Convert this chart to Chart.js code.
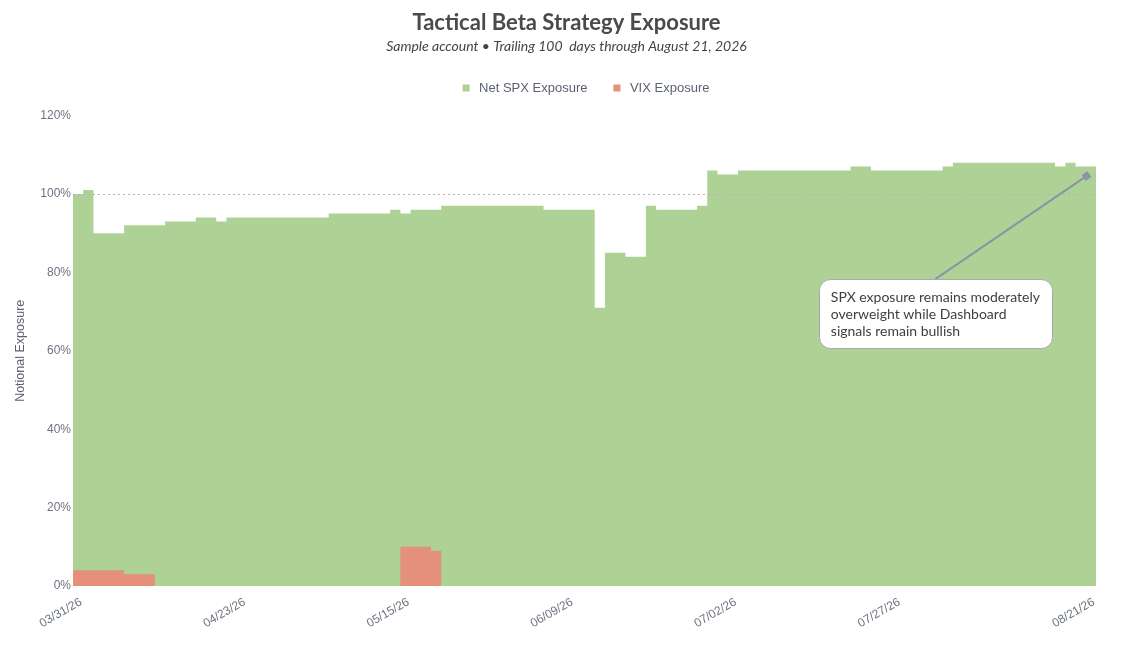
<!DOCTYPE html>
<html>
<head>
<meta charset="utf-8">
<title>Tactical Beta Strategy Exposure</title>
<script src="https://cdn.jsdelivr.net/npm/chart.js@4.4.1/dist/chart.umd.min.js"></script>
<style>
	html, body { margin: 0; padding: 0; background: #fff; }
	#wrap { width: 1133px; height: 651px; position: relative; }
</style>
</head>
<body>
<div id="wrap"><canvas id="exposure-chart"></canvas></div>
<script>
// trading days, 03/31/26 through 08/21/26
const tradeDates = [
	"03/31/26", "04/01/26", "04/02/26", "04/06/26", "04/07/26", "04/08/26", "04/09/26", "04/10/26", "04/13/26", "04/14/26",
	"04/15/26", "04/16/26", "04/17/26", "04/20/26", "04/21/26", "04/22/26", "04/23/26", "04/24/26", "04/27/26", "04/28/26",
	"04/29/26", "04/30/26", "05/01/26", "05/04/26", "05/05/26", "05/06/26", "05/07/26", "05/08/26", "05/11/26", "05/12/26",
	"05/13/26", "05/14/26", "05/15/26", "05/18/26", "05/19/26", "05/20/26", "05/21/26", "05/22/26", "05/26/26", "05/27/26",
	"05/28/26", "05/29/26", "06/01/26", "06/02/26", "06/03/26", "06/04/26", "06/05/26", "06/08/26", "06/09/26", "06/10/26",
	"06/11/26", "06/12/26", "06/15/26", "06/16/26", "06/17/26", "06/18/26", "06/22/26", "06/23/26", "06/24/26", "06/25/26",
	"06/26/26", "06/29/26", "06/30/26", "07/01/26", "07/02/26", "07/06/26", "07/07/26", "07/08/26", "07/09/26", "07/10/26",
	"07/13/26", "07/14/26", "07/15/26", "07/16/26", "07/17/26", "07/20/26", "07/21/26", "07/22/26", "07/23/26", "07/24/26",
	"07/27/26", "07/28/26", "07/29/26", "07/30/26", "07/31/26", "08/03/26", "08/04/26", "08/05/26", "08/06/26", "08/07/26",
	"08/10/26", "08/11/26", "08/12/26", "08/13/26", "08/14/26", "08/17/26", "08/18/26", "08/19/26", "08/20/26", "08/21/26"
];

// percent of account
const spxExposure = [
	100, 101, 90, 90, 90, 92, 92, 92, 92, 93,
	93, 93, 94, 94, 93, 94, 94, 94, 94, 94,
	94, 94, 94, 94, 94, 95, 95, 95, 95, 95,
	95, 96, 95, 96, 96, 96, 97, 97, 97, 97,
	97, 97, 97, 97, 97, 97, 96, 96, 96, 96,
	96, 71, 85, 85, 84, 84, 97, 96, 96, 96,
	96, 97, 106, 105, 105, 106, 106, 106, 106, 106,
	106, 106, 106, 106, 106, 106, 107, 107, 106, 106,
	106, 106, 106, 106, 106, 107, 108, 108, 108, 108,
	108, 108, 108, 108, 108, 108, 107, 108, 107, 107
];

const vixExposure = [
	4, 4, 4, 4, 4, 3, 3, 3, 0, 0,
	0, 0, 0, 0, 0, 0, 0, 0, 0, 0,
	0, 0, 0, 0, 0, 0, 0, 0, 0, 0,
	0, 0, 10, 10, 10, 9, 0, 0, 0, 0,
	0, 0, 0, 0, 0, 0, 0, 0, 0, 0,
	0, 0, 0, 0, 0, 0, 0, 0, 0, 0,
	0, 0, 0, 0, 0, 0, 0, 0, 0, 0,
	0, 0, 0, 0, 0, 0, 0, 0, 0, 0,
	0, 0, 0, 0, 0, 0, 0, 0, 0, 0,
	0, 0, 0, 0, 0, 0, 0, 0, 0, 0
];

const tickDays = [0, 16, 32, 48, 64, 80, 99];
const targetLevel = 100;
const noteLines = ["SPX exposure remains moderately", "overweight while Dashboard", "signals remain bullish"];
const notePoint = [99.2, 104.8];

// each day holds its value until the next one, last day included
function stepSeries(values) {
	let pts = values.map(function (v, i) {
		return { x: i, y: v };
	});
	pts.push({ x: values.length, y: values[values.length - 1] });
	return pts;
}

const legendGap = {
	id: "legendGap",
	beforeInit: function (chart) {
		const fit = chart.legend.fit;
		chart.legend.fit = function () {
			fit.call(this);
			this.height += 11;
		};
	}
};

const refLine = {
	id: "refLine",
	afterDatasetsDraw: function (chart) {
		const ctx = chart.ctx, area = chart.chartArea;
		const y = Math.round(chart.scales.y.getPixelForValue(targetLevel)) + 0.5;
		ctx.save();
		ctx.strokeStyle = "#b4b4b4";
		ctx.lineWidth = 1;
		ctx.setLineDash([2, 3]);
		ctx.beginPath();
		ctx.moveTo(area.left, y);
		ctx.lineTo(area.right, y);
		ctx.stroke();
		ctx.restore();
	}
};

const notePlugin = {
	id: "note",
	afterDraw: function (chart) {
		const ctx = chart.ctx;
		const tx = chart.scales.x.getPixelForValue(notePoint[0]),
			ty = chart.scales.y.getPixelForValue(notePoint[1]);
		const bx = tx - 269, by = ty + 104, bw = 233, bh = 69;
		const sx = bx + bw / 2, sy = by;

		ctx.save();
		ctx.strokeStyle = "#8c93a6";
		ctx.fillStyle = "#8c93a6";
		ctx.lineWidth = 2;
		ctx.beginPath();
		ctx.moveTo(sx, sy);
		ctx.lineTo(tx, ty);
		ctx.stroke();
		ctx.translate(tx, ty);
		ctx.rotate(Math.atan2(ty - sy, tx - sx));
		ctx.fillRect(-5, -3.5, 7, 7);
		ctx.restore();

		ctx.save();
		ctx.beginPath();
		ctx.roundRect(Math.round(bx) + 0.5, Math.round(by) + 0.5, bw, bh, 11);
		ctx.fillStyle = "#ffffff";
		ctx.fill();
		ctx.strokeStyle = "#a9a9a9";
		ctx.lineWidth = 1;
		ctx.stroke();
		ctx.fillStyle = "#404040";
		ctx.font = "14px Lato";
		ctx.textBaseline = "middle";
		for (let i = 0; i < noteLines.length; i++) {
			ctx.fillText(noteLines[i], bx + 12, by + 18 + i * 17.2);
		}
		ctx.restore();
	}
};

const tickColor = "#6c7380";
const ctx = document.querySelector("#exposure-chart").getContext("2d");

new Chart(ctx, {
	type: "line",
	data: {
		datasets: [
			{
				label: "Net SPX Exposure",
				data: stepSeries(spxExposure),
				stepped: "before",
				fill: "origin",
				backgroundColor: "#aed296",
				borderColor: "rgba(0,0,0,0)",
				borderWidth: 0,
				pointRadius: 0,
				order: 1
			}, {
				label: "VIX Exposure",
				data: stepSeries(vixExposure),
				stepped: "before",
				fill: "origin",
				backgroundColor: "#e4907a",
				borderColor: "rgba(0,0,0,0)",
				borderWidth: 0,
				pointRadius: 0,
				order: 0
			}
		]
	},
	options: {
		responsive: true,
		maintainAspectRatio: false,
		animation: false,
		layout: {
			padding: 0
		},
		plugins: {
			title: {
				display: true,
				text: "Tactical Beta Strategy Exposure",
				color: "#4a4a4a",
				font: { family: "Lato", size: 22, weight: "bold", lineHeight: 1.2 },
				padding: { top: 10, bottom: 0 }
			},
			subtitle: {
				display: true,
				text: "Sample account \u2022 Trailing 100  days through August 21, 2026",
				color: "#444444",
				font: { family: "Lato", size: 14, style: "italic", lineHeight: 1.2 },
				padding: { top: 2, bottom: 3.4 }
			},
			legend: {
				display: true,
				fullSize: false,
				onClick: function () {
					return false;
				},
				labels: {
					usePointStyle: true,
					pointStyle: "rect",
					boxWidth: 13,
					boxHeight: 7,
					padding: 23,
					color: "#5b6270",
					font: { family: "Liberation Sans", size: 13 },
					sort: function (a, b) {
						return a.datasetIndex - b.datasetIndex;
					}
				}
			},
			tooltip: { enabled: false }
		},
		scales: {
			x: {
				type: "linear",
				min: 0,
				max: 100,
				grid: { display: false, drawTicks: false },
				border: { display: false },
				afterBuildTicks: function (axis) {
					axis.ticks = tickDays.map(function (v) {
						return { value: v };
					});
				},
				afterFit: function (axis) {
					axis.height = 65;
				},
				ticks: {
					autoSkip: false,
					minRotation: 30,
					maxRotation: 30,
					labelOffset: 8,
					padding: 9,
					color: tickColor,
					font: { family: "Liberation Sans", size: 12 },
					callback: function (v) {
						return tradeDates[v];
					}
				}
			},
			y: {
				min: 0,
				max: 120,
				grid: { display: false, drawTicks: false },
				border: { display: false },
				afterFit: function (axis) {
					axis.width = 73;
				},
				ticks: {
					stepSize: 20,
					padding: 2,
					color: tickColor,
					font: { family: "Liberation Sans", size: 12 },
					callback: function (v) {
						return v + "%";
					}
				},
				title: {
					display: true,
					text: "Notional Exposure",
					color: "#5b6270",
					padding: { top: 13, bottom: 4 },
					font: { family: "Liberation Sans", size: 12.5 }
				}
			},
			// empty right margin, keeps the plot clear of the edge
			gutter: {
				type: "linear",
				position: "right",
				display: true,
				grid: { display: false, drawTicks: false },
				border: { display: false },
				ticks: { display: false },
				afterFit: function (axis) {
					axis.width = 37;
				}
			}
		}
	},
	plugins: [legendGap, refLine, notePlugin]
});
</script>
</body>
</html>
